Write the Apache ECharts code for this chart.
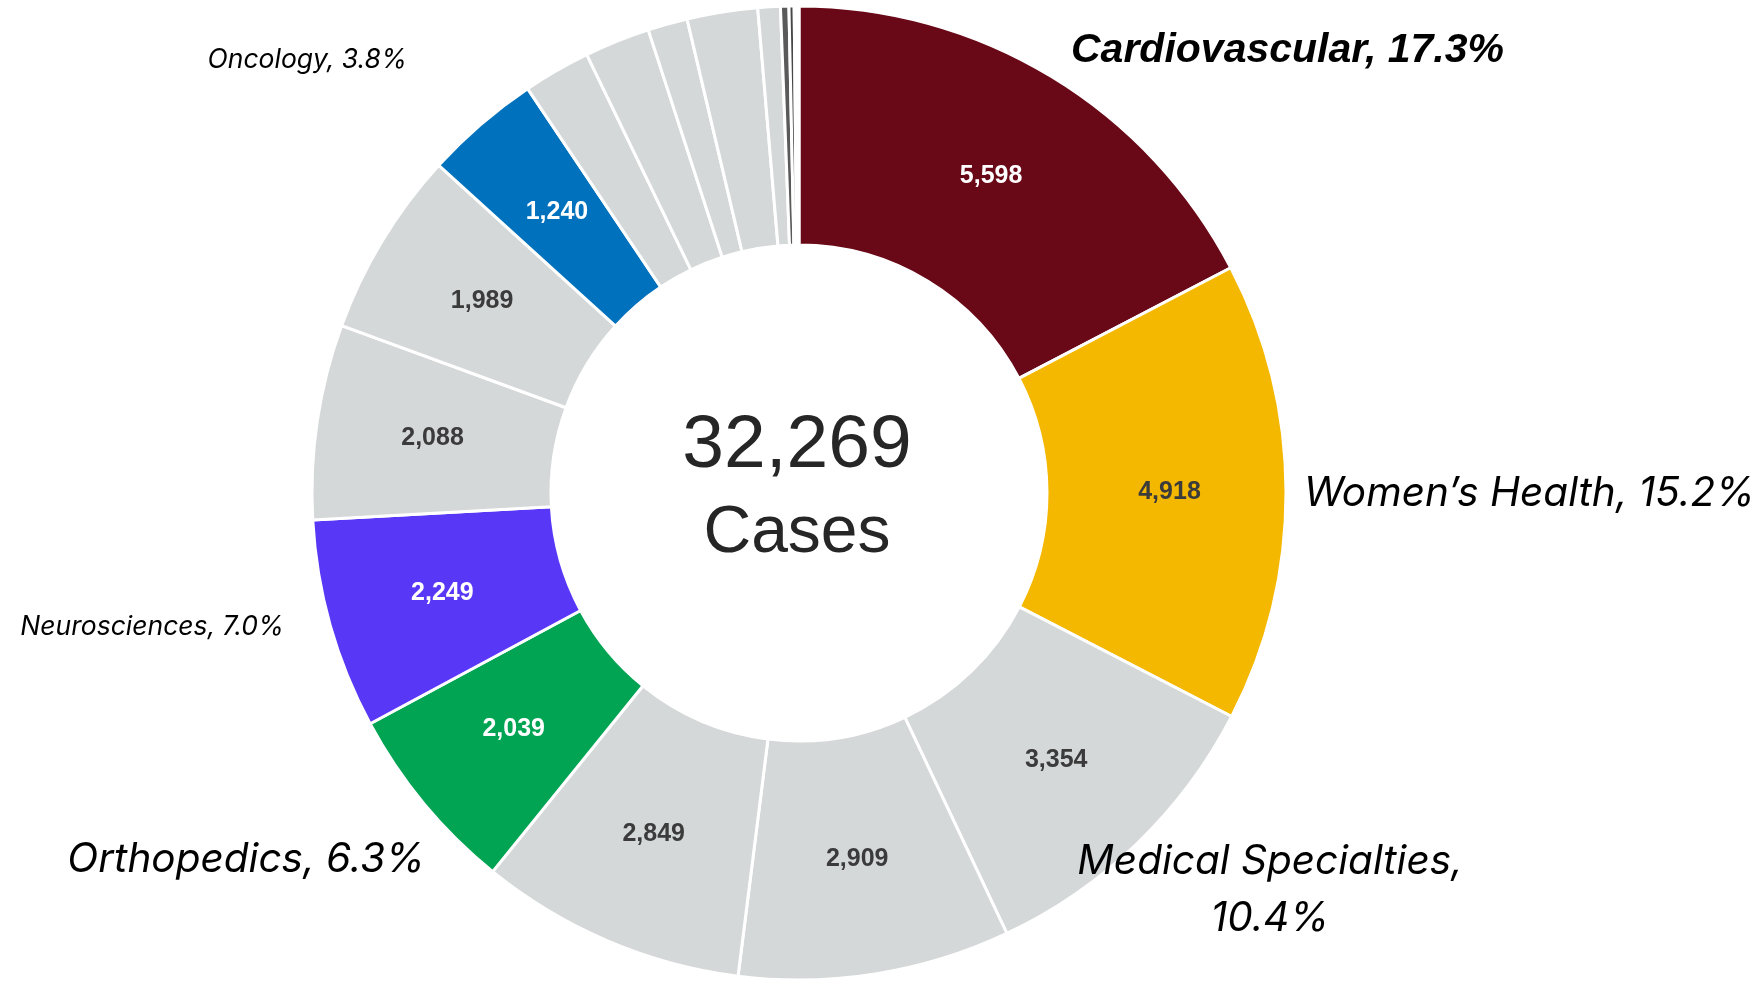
<!DOCTYPE html>
<html>
<head>
    <meta charset="utf-8">
    <title>Cases by service line</title>
    <script src="https://cdn.jsdelivr.net/npm/echarts@6/dist/echarts.min.js"></script>
    <style>
        html, body { margin: 0; padding: 0; background: #fff; }
        #main { width: 1763px; height: 981px; }
    </style>
</head>
<body>
    <div id="main"></div>
    <script>
        // data, clockwise from 12 o'clock
        var categories = ['Cardiovascular', 'Women’s Health', 'Medical Specialties', 'Service line 4',
            'Service line 5', 'Orthopedics', 'Neurosciences', 'Service line 8', 'Service line 9',
            'Oncology', 'Other 1', 'Other 2', 'Other 3', 'Other 4', 'Other 5', 'Other 6', 'Other 7', 'Unassigned'];
        var cases = [5598, 4918, 3354, 2909, 2849, 2039, 2249, 2088, 1989, 1240,
            720, 700, 425, 755, 240, 90, 55, 51];
        var valueLabelCount = 10;   // first ten slices carry their count
        var centerCaption = 'Cases';

        var GRAY = '#D5D8D9';
        var sliceColors = ['#690817', '#F5B800', GRAY, GRAY, GRAY, '#00A453', '#5937F6', GRAY, GRAY, '#0071BC',
            GRAY, GRAY, GRAY, GRAY, GRAY, '#5a5a5a', '#474747', '#ffffff'];

        // outer name labels: position + text style
        var nameLabels = {
            'Cardiovascular': { x: 1071, y: 51, align: 'left', style: 'bold' },
            'Women’s Health': { x: 1304, y: 494, align: 'left', style: 'big' },
            'Medical Specialties': { x: 1270, y: 890, align: 'center', style: 'big', wrap: true },
            'Orthopedics': { x: 425, y: 860, align: 'right', style: 'big' },
            'Neurosciences': { x: 284, y: 627, align: 'right', style: 'small' },
            'Oncology': { x: 407, y: 60, align: 'right', style: 'small' }
        };

        var total = cases.reduce(function (a, b) { return a + b; }, 0);
        var CENTER = [799, 493];
        var RADIUS = [248, 487];

        var ringData = categories.map(function (name, i) {
            var isDark = [0, 5, 6, 9].indexOf(i) >= 0;
            return {
                name: name,
                value: cases[i],
                itemStyle: { color: sliceColors[i] },
                label: {
                    show: i < valueLabelCount,
                    color: isDark ? '#ffffff' : '#3b3b3b'
                }
            };
        });

        var nameData = categories.map(function (name, i) {
            return { name: name, value: cases[i], label: { show: !!nameLabels[name] } };
        });

        var myChart = echarts.init(document.getElementById('main'));

        var option = {
            backgroundColor: '#ffffff',
            animation: false,
            graphic: [
                {
                    type: 'text', x: 797, y: 446,
                    style: {
                        text: total.toLocaleString('en-US'), fontSize: 75, fontFamily: 'Liberation Sans, Arial',
                        fill: '#262626', align: 'center', verticalAlign: 'middle'
                    }
                },
                {
                    type: 'text', x: 797, y: 534,
                    style: {
                        text: centerCaption, fontSize: 66, fontFamily: 'Liberation Sans, Arial',
                        fill: '#262626', align: 'center', verticalAlign: 'middle'
                    }
                }
            ],
            series: [
                {
                    type: 'pie',
                    center: CENTER,
                    radius: RADIUS,
                    startAngle: 90,
                    clockwise: true,
                    avoidLabelOverlap: false,
                    silent: true,
                    itemStyle: { borderColor: '#ffffff', borderWidth: 3 },
                    label: {
                        position: 'inside',
                        formatter: function (p) { return p.value.toLocaleString('en-US'); },
                        fontFamily: 'Liberation Sans, Arial',
                        fontWeight: 'bold',
                        fontSize: 25
                    },
                    labelLine: { show: false },
                    data: ringData
                },
                {
                    // invisible twin ring, only carries the outside name labels
                    type: 'pie',
                    center: CENTER,
                    radius: RADIUS,
                    startAngle: 90,
                    clockwise: true,
                    avoidLabelOverlap: false,
                    silent: true,
                    itemStyle: { color: 'transparent', borderWidth: 0 },
                    label: {
                        position: 'outside',
                        formatter: function (p) {
                            var cfg = nameLabels[p.name];
                            if (!cfg) return '';
                            var sep = cfg.wrap ? ',\n' : ', ';
                            var pct = (p.value / total * 100).toFixed(1);
                            return '{' + cfg.style + '|' + p.name + sep + pct + '%}';
                        },
                        rich: {
                            bold: {
                                fontFamily: 'Liberation Sans Narrow, Liberation Sans, Arial',
                                fontStyle: 'italic', fontWeight: 'bold', fontSize: 41, color: '#000'
                            },
                            big: {
                                fontFamily: 'Inter, Noto Sans', fontStyle: 'italic',
                                fontSize: 40.5, lineHeight: 57, color: '#000'
                            },
                            small: {
                                fontFamily: 'Inter, Noto Sans', fontStyle: 'italic',
                                fontSize: 26.5, color: '#000'
                            }
                        }
                    },
                    labelLine: { show: false },
                    labelLayout: function (params) {
                        var cfg = nameLabels[categories[params.dataIndex]];
                        if (!cfg) return {};
                        return { x: cfg.x, y: cfg.y, align: cfg.align, verticalAlign: 'middle' };
                    },
                    data: nameData
                }
            ]
        };

        myChart.setOption(option);
    </script>
</body>
</html>
